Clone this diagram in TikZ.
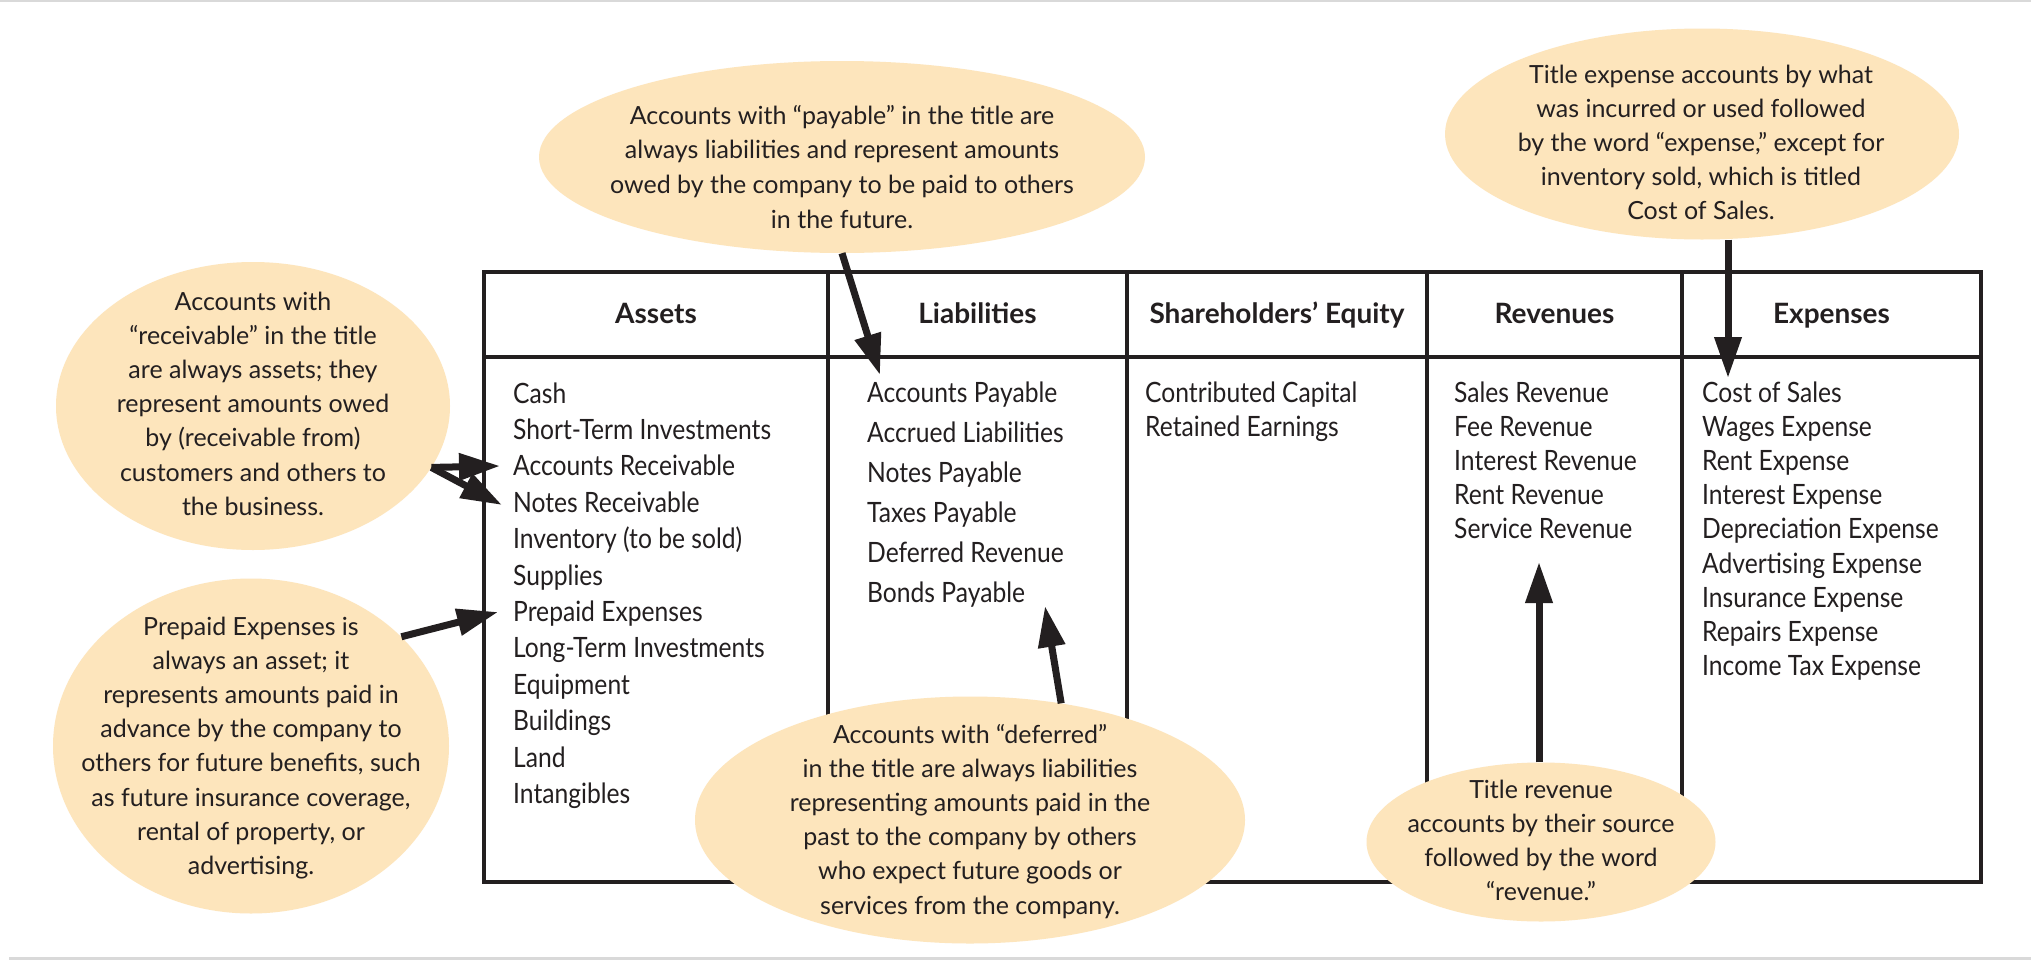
\documentclass[tikz,border=0pt]{standalone}
\usepackage{fontspec}
\setmainfont{Lato}
\newfontfamily\listfont{Lato}[FakeStretch=0.88]
\usetikzlibrary{arrows.meta,shapes.geometric}
\definecolor{bub}{HTML}{FDE5BC}
\definecolor{ink}{HTML}{231F20}
\definecolor{rule}{HTML}{D9D9D9}
\begin{document}
\begin{tikzpicture}[x=1pt,y=-1pt,
  bubble/.style={ellipse, fill=bub, draw=none, inner sep=0pt},
  btext/.style={align=center, font=\fontsize{25}{34.2}\selectfont, text=ink, anchor=base, inner sep=0pt},
  listA/.style={align=left, anchor=base west, inner sep=0pt, text=ink},
  head/.style={font=\fontsize{28}{34}\selectfont\bfseries, text=ink, anchor=base, inner sep=0pt},
  grid/.style={draw=ink, line width=4pt},
  arr/.style={draw=ink, line width=7pt, -{Triangle[length=41pt,width=26pt]}},
]
\useasboundingbox (0,0) rectangle (2031,961);
\fill[white] (0,0) rectangle (2031,961);
% page rules
\draw[rule, line width=2pt] (0,1) -- (2031,1);
\draw[rule, line width=3pt] (9,958) -- (2031,958);
% table
\draw[grid] (484,272) rectangle (1981,882);
\draw[grid] (484,357) -- (1981,357);
\foreach \xx in {828,1127,1427,1682} \draw[grid] (\xx,272) -- (\xx,882);
% headers
\node[head] (hA) at (656,323) {Assets};
\node[head] (hL) at (977.5,323) {Liabilities};
\node[head] (hE) at (1277,323) {Shareholders’ Equity};
\node[head] (hR) at (1554.5,323) {Revenues};
\node[head] (hX) at (1831.5,323) {Expenses};
% lists (anchored at the baseline of their last line)
\node[listA, font=\listfont\fontsize{28}{36.4}\selectfont] (lA) at (513,803.4) {Cash\\Short-Term Investments\\Accounts Receivable\\Notes Receivable\\Inventory (to be sold)\\Supplies\\Prepaid Expenses\\Long-Term Investments\\Equipment\\Buildings\\Land\\Intangibles};
\node[listA, font=\listfont\fontsize{28}{40}\selectfont] (lL) at (867,602) {Accounts Payable\\Accrued Liabilities\\Notes Payable\\Taxes Payable\\Deferred Revenue\\Bonds Payable};
\node[listA, font=\listfont\fontsize{28}{34}\selectfont] (lE) at (1145,436) {Contributed Capital\\Retained Earnings};
\node[listA, font=\listfont\fontsize{28}{34.2}\selectfont] (lR) at (1454,538.8) {Sales Revenue\\Fee Revenue\\Interest Revenue\\Rent Revenue\\Service Revenue};
\node[listA, font=\listfont\fontsize{28}{34.2}\selectfont] (lX) at (1702,675.6) {Cost of Sales\\Wages Expense\\Rent Expense\\Interest Expense\\Depreciation Expense\\Advertising Expense\\Insurance Expense\\Repairs Expense\\Income Tax Expense};
% bubbles
\node[bubble, minimum width=394pt, minimum height=288pt] (recE) at (253,406) {};
\node[bubble, minimum width=606pt, minimum height=192pt] (payE) at (842,157) {};
\node[bubble, minimum width=514pt, minimum height=211pt] (expE) at (1702,134) {};
\node[bubble, minimum width=396pt, minimum height=335pt] (preE) at (251,746) {};
\node[bubble, minimum width=550pt, minimum height=247pt] (defE) at (970,820) {};
\node[bubble, minimum width=349pt, minimum height=159pt] (revE) at (1541,842) {};
% bubble texts (anchored at the baseline of their last line)
\node[btext] (recT) at (253,515.2) {Accounts with\\“receivable” in the title\\are always assets; they\\represent amounts owed\\by (receivable from)\\customers and others to\\the business.};
\node[btext, font=\fontsize{25}{34.7}\selectfont] (payT) at (842,228.1) {Accounts with “payable” in the title are\\always liabilities and represent amounts\\owed by the company to be paid to others\\in the future.};
\node[btext] (expT) at (1701,219.8) {Title expense accounts by what\\was incurred or used followed\\by the word “expense,” except for\\inventory sold, which is titled\\Cost of Sales.};
\node[btext] (preT) at (251,874.4) {Prepaid Expenses is\\always an asset; it\\represents amounts paid in\\advance by the company to\\others for future benefits, such\\as future insurance coverage,\\rental of property, or\\advertising.};
\node[btext] (defT) at (970,914) {Accounts with “deferred”\\in the title are always liabilities\\representing amounts paid in the\\past to the company by others\\who expect future goods or\\services from the company.};
\node[btext] (revT) at (1541,900.6) {Title revenue\\accounts by their source\\followed by the word\\“revenue.”};
% arrow tips
\coordinate (tAR) at (500,466);
\coordinate (tNR) at (502,505);
\coordinate (tPE) at (498,612);
\coordinate (tAP) at (880,375);
\coordinate (tBP) at (1045,606);
\coordinate (tSR) at (1539,562);
\coordinate (tCS) at (1728,378);
% arrows
\draw[arr] (recE.-19) -- (tAR);
\draw[arr] (recE.-19) -- (tNR);
\draw[arr] (preE.36) -- (tPE);
\draw[arr] (payE.south) -- (tAP);
\draw[arr] (defE.52.7) -- (tBP);
\draw[arr] (revE.north -| tSR) -- (tSR);
\draw[arr] (expE.south -| tCS) -- (tCS);
\end{tikzpicture}
\end{document}
